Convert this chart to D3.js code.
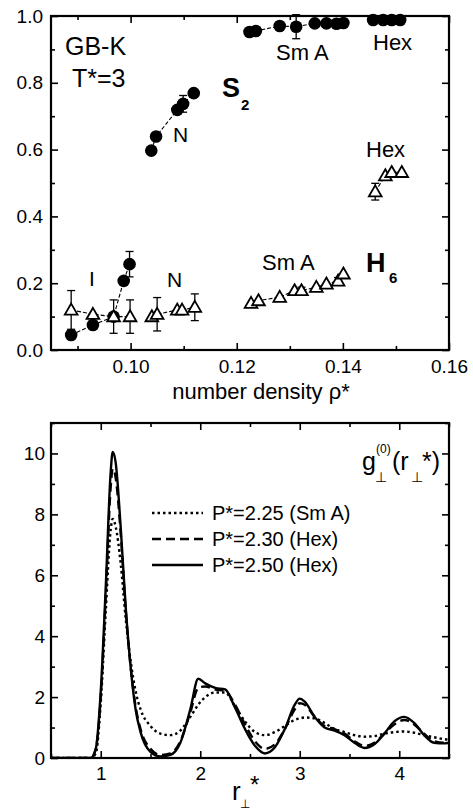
<!DOCTYPE html>
<html>
<head>
<meta charset="utf-8">
<script src="https://cdn.jsdelivr.net/npm/d3@7"></script>
<style>
body { margin: 0; background: #fff; }
text { font-family: "Liberation Sans", Arial, sans-serif; fill: #000; }
</style>
</head>
<body>
<svg id="fig" width="473" height="810"></svg>
<script>
// upper panel: [density, value, error]
const s2Iso = [[0.0888, 0.045, 0], [0.0929, 0.075, 0], [0.0968, 0.10, 0], [0.0987, 0.207, 0], [0.0998, 0.257, 0.038]];
const s2Nem = [[0.1039, 0.597, 0], [0.1048, 0.639, 0], [0.1088, 0.719, 0], [0.1099, 0.737, 0.025], [0.1119, 0.769, 0]];
const s2SmA = [[0.1224, 0.952, 0], [0.1236, 0.955, 0], [0.1281, 0.970, 0], [0.1312, 0.968, 0.036],
               [0.1347, 0.978, 0], [0.1369, 0.978, 0], [0.1388, 0.977, 0], [0.1401, 0.979, 0]];
const s2Hex = [[0.1457, 0.988, 0], [0.1476, 0.988, 0], [0.1492, 0.988, 0], [0.1508, 0.988, 0]];
const h6Iso = [[0.0888, 0.12, 0.058], [0.0929, 0.107, 0], [0.0968, 0.10, 0.05], [0.0999, 0.10, 0.05]];
const h6Nem = [[0.1040, 0.10, 0], [0.1050, 0.107, 0.05], [0.1088, 0.12, 0], [0.1097, 0.12, 0], [0.1121, 0.128, 0.04]];
const h6SmA = [[0.1227, 0.14, 0], [0.1241, 0.148, 0], [0.1281, 0.158, 0], [0.1309, 0.178, 0], [0.1322, 0.178, 0.01],
               [0.1350, 0.188, 0], [0.1369, 0.198, 0], [0.1391, 0.207, 0.01], [0.1401, 0.228, 0]];
const h6Hex = [[0.1461, 0.474, 0.025], [0.1480, 0.522, 0], [0.1492, 0.532, 0], [0.1511, 0.532, 0]];

// lower panel: g(r) curves
const rVals = [0.5, 0.9, 0.95, 1.0, 1.05, 1.1, 1.12, 1.15, 1.2, 1.25, 1.3, 1.35, 1.4, 1.5, 1.6, 1.7, 1.8, 1.9, 1.98,
               2.05, 2.15, 2.25, 2.35, 2.45, 2.55, 2.65, 2.75, 2.85, 2.95, 3.0, 3.05, 3.15, 3.25, 3.35, 3.45, 3.55,
               3.65, 3.75, 3.85, 3.95, 4.05, 4.15, 4.25, 4.35, 4.45, 4.5];
const gP225 = [0, 0, 0.15, 1.8, 4.8, 7.5, 7.85, 7.6, 6.4, 4.6, 3.2, 2.2, 1.6, 1.05, 0.8, 0.75, 0.9, 1.35, 1.75,
               2.0, 2.15, 2.15, 1.7, 1.2, 0.85, 0.75, 0.85, 1.05, 1.25, 1.3, 1.33, 1.3, 1.15, 0.95, 0.85, 0.75,
               0.7, 0.72, 0.8, 0.85, 0.87, 0.83, 0.75, 0.68, 0.62, 0.6];
const gP230 = [0, 0, 0.3, 2.0, 5.3, 8.9, 9.5, 9.2, 7.4, 4.9, 3.0, 1.7, 0.95, 0.3, 0.1, 0.15, 0.55, 1.5, 2.3,
               2.35, 2.25, 2.2, 1.75, 1.1, 0.55, 0.3, 0.45, 0.95, 1.6, 1.8, 1.75, 1.35, 1.05, 0.95, 0.8, 0.55,
               0.4, 0.5, 0.8, 1.1, 1.25, 1.1, 0.8, 0.55, 0.5, 0.5];
const gP250 = [0, 0, 0.3, 2.2, 5.6, 9.4, 10.05, 9.7, 7.6, 5.0, 3.0, 1.6, 0.85, 0.2, 0.05, 0.1, 0.5, 1.6, 2.6,
               2.45, 2.3, 2.25, 1.65, 0.95, 0.4, 0.15, 0.35, 0.95, 1.75, 1.95, 1.85, 1.35, 1.0, 0.9, 0.75, 0.5,
               0.33, 0.45, 0.8, 1.2, 1.35, 1.15, 0.75, 0.5, 0.48, 0.5];
const legendLabels = ["P*=2.25 (Sm A)", "P*=2.30 (Hex)", "P*=2.50 (Hex)"];

const svg = d3.select("#fig");
svg.append("rect").attr("width", 473).attr("height", 810).attr("fill", "#fff");

const xTop = d3.scaleLinear().domain([0.085, 0.16]).range([51, 449]);
const yTop = d3.scaleLinear().domain([0, 1]).range([350, 16]);
const xBot = d3.scaleLinear().domain([0.5, 4.5]).range([51, 449]);
const yBot = d3.scaleLinear().domain([0, 11]).range([758, 423]);

function drawAxes(x, y, xMaj, xMin, yMaj, yMin, xFmt, yFmt, xPad, yPad) {
    const [x0, x1] = x.range(), [y0, y1] = y.range();
    const g = svg.append("g");
    const add = (axis, tx, ty) => {
        const a = g.append("g").attr("transform", `translate(${tx},${ty})`).call(axis);
        a.select(".domain").remove();
        a.selectAll("line").attr("stroke-width", 1.6);
        a.selectAll("text").attr("font-family", "Liberation Sans, Arial, sans-serif").attr("font-size", 19).attr("fill", "#000");
    };
    add(d3.axisBottom(x).tickValues(xMaj).tickSize(-7).tickPadding(xPad).tickFormat(xFmt), 0, y0);
    add(d3.axisBottom(x).tickValues(xMin).tickSize(-4).tickFormat(""), 0, y0);
    add(d3.axisTop(x).tickValues(xMaj).tickSize(-7).tickFormat(""), 0, y1);
    add(d3.axisTop(x).tickValues(xMin).tickSize(-4).tickFormat(""), 0, y1);
    add(d3.axisLeft(y).tickValues(yMaj).tickSize(-7).tickPadding(yPad).tickFormat(yFmt), x0, 0);
    add(d3.axisLeft(y).tickValues(yMin).tickSize(-4).tickFormat(""), x0, 0);
    add(d3.axisRight(y).tickValues(yMaj).tickSize(-7).tickFormat(""), x1, 0);
    add(d3.axisRight(y).tickValues(yMin).tickSize(-4).tickFormat(""), x1, 0);
    g.append("rect").attr("x", x0).attr("y", y1).attr("width", x1 - x0).attr("height", y0 - y1)
        .attr("fill", "none").attr("stroke", "#000").attr("stroke-width", 2.2);
}

// ---------- upper panel ----------
drawAxes(xTop, yTop, [0.10, 0.12, 0.14, 0.16], [0.09, 0.11, 0.13, 0.15],
    [0, 0.2, 0.4, 0.6, 0.8, 1.0], [0.1, 0.3, 0.5, 0.7, 0.9],
    d3.format(".2f"), d3.format(".1f"), 10, 8);

const link = d3.line().x(d => xTop(d[0])).y(d => yTop(d[1]));
const groups = [s2Iso, s2Nem, s2SmA, s2Hex, h6Iso, h6Nem, h6SmA, h6Hex];
groups.forEach(grp => {
    svg.append("path").attr("d", link(grp)).attr("fill", "none")
        .attr("stroke", "#000").attr("stroke-width", 1.1).attr("stroke-dasharray", "4,2");
});
groups.forEach(grp => {
    grp.filter(d => d[2] > 0).forEach(d => {
        const cx = xTop(d[0]), ya = yTop(d[1] + d[2]), yb = yTop(d[1] - d[2]);
        svg.append("line").attr("x1", cx).attr("x2", cx).attr("y1", ya).attr("y2", yb)
            .attr("stroke", "#000").attr("stroke-width", 1.3);
        [ya, yb].forEach(yy => svg.append("line").attr("x1", cx - 4).attr("x2", cx + 4)
            .attr("y1", yy).attr("y2", yy).attr("stroke", "#000").attr("stroke-width", 1.3));
    });
});
[s2Iso, s2Nem, s2SmA, s2Hex].forEach(grp => {
    svg.append("g").selectAll("circle").data(grp).join("circle")
        .attr("cx", d => xTop(d[0])).attr("cy", d => yTop(d[1])).attr("r", 6.3).attr("fill", "#000");
});
const tri = d3.symbol().type(d3.symbolTriangle).size(70);
[h6Iso, h6Nem, h6SmA, h6Hex].forEach(grp => {
    svg.append("g").selectAll("path").data(grp).join("path")
        .attr("transform", d => `translate(${xTop(d[0])},${yTop(d[1]) + 1})`)
        .attr("d", tri).attr("fill", "#fff").attr("stroke", "#000").attr("stroke-width", 1.8);
});

const label = (txt, x, y, size, weight) => svg.append("text").attr("x", x).attr("y", y)
    .attr("font-size", size).attr("font-weight", weight || "normal").text(txt);
label("GB-K", 65, 55, 25);
label("T*=3", 72, 87, 25);
label("S", 222, 97, 27, "bold");
label("2", 241, 110, 15, "bold");
label("N", 173, 142, 21);
label("Sm A", 276, 60, 22);
label("Hex", 373, 50, 22);
label("Hex", 366, 157, 22);
label("I", 89, 286, 21);
label("N", 167, 287, 21);
label("Sm A", 262, 270, 22);
label("H", 366, 272, 27, "bold");
label("6", 389, 283, 15, "bold");
svg.append("text").attr("x", 261).attr("y", 399).attr("text-anchor", "middle")
    .attr("font-size", 22).text("number density ρ*");

// ---------- lower panel ----------
drawAxes(xBot, yBot, [1, 2, 3, 4], [0.5, 1.5, 2.5, 3.5, 4.5],
    [0, 2, 4, 6, 8, 10], [1, 3, 5, 7, 9, 11],
    d3.format("d"), d3.format("d"), 9, 6);

svg.append("clipPath").attr("id", "clipBot").append("rect")
    .attr("x", 51).attr("y", 423).attr("width", 398).attr("height", 335);
const series = [
    { vals: gP225, dash: "2.5,3" },
    { vals: gP230, dash: "9,5" },
    { vals: gP250, dash: null }
];
const gLine = d3.line().x((d, i) => xBot(rVals[i])).y(d => yBot(d)).curve(d3.curveMonotoneX);
series.forEach(s => {
    svg.append("path").attr("clip-path", "url(#clipBot)").attr("d", gLine(s.vals))
        .attr("fill", "none").attr("stroke", "#000").attr("stroke-width", 2.4)
        .attr("stroke-dasharray", s.dash);
});

const legY = [513, 539, 565];
series.forEach((s, i) => {
    svg.append("line").attr("x1", 152).attr("x2", 203).attr("y1", legY[i]).attr("y2", legY[i])
        .attr("stroke", "#000").attr("stroke-width", 2.4).attr("stroke-dasharray", s.dash);
    label(legendLabels[i], 212, legY[i] + 7, 20);
});

label("g", 362, 470, 25);
label("(0)", 376, 453, 12);
label("⊥", 375, 482, 14);
label("(r", 392, 470, 25);
label("⊥", 411, 482, 14);
label("*)", 422, 470, 25);

label("r", 232, 800, 26);
label("⊥", 240, 808, 12);
label("*", 250, 793, 24);
</script>
</body>
</html>
